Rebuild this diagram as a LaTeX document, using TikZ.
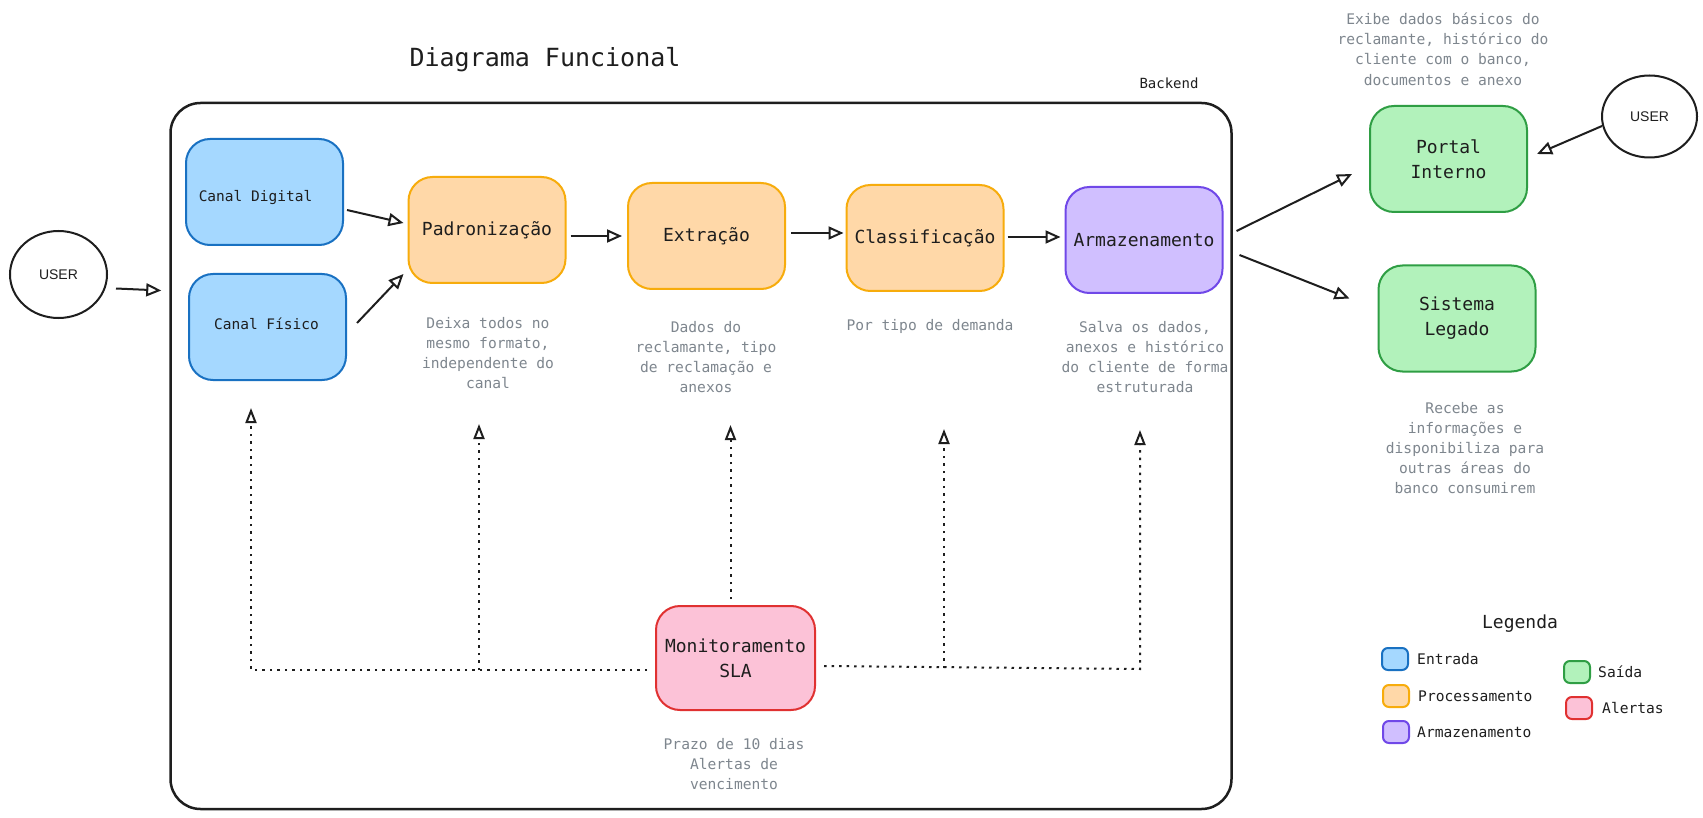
\documentclass[tikz,border=0pt]{standalone}
\usepackage{fontspec}
\setmainfont{DejaVu Sans Mono}
\newfontfamily\usersans{Liberation Sans}
\usetikzlibrary{arrows.meta,calc,shapes.geometric}
\definecolor{blueF}{HTML}{A5D8FF}
\definecolor{blueS}{HTML}{1971C2}
\definecolor{orF}{HTML}{FFD8A8}
\definecolor{orS}{HTML}{F7AC0C}
\definecolor{puF}{HTML}{D0BFFF}
\definecolor{puS}{HTML}{7048E8}
\definecolor{grF}{HTML}{B2F2BB}
\definecolor{grS}{HTML}{2F9E44}
\definecolor{piF}{HTML}{FCC2D7}
\definecolor{piS}{HTML}{E03131}
\definecolor{desc}{HTML}{7E868E}
\definecolor{ink}{HTML}{1E1E1E}
\begin{document}
\begin{tikzpicture}[x=1pt,y=-1pt,
  box/.style={draw, rounded corners=24pt, line width=2pt, minimum width=157pt, minimum height=106pt, align=center, inner sep=0pt, text=ink, font=\fontsize{18}{25}\selectfont},
  bluebox/.style={box, fill=blueF, draw=blueS},
  orbox/.style={box, fill=orF, draw=orS},
  pubox/.style={box, fill=puF, draw=puS},
  grbox/.style={box, fill=grF, draw=grS},
  pibox/.style={box, fill=piF, draw=piS},
  boxlabel/.style={inner sep=0pt, text=ink, font=\fontsize{14.5}{20}\selectfont},
  desctext/.style={align=center, inner sep=0pt, text=desc, font=\fontsize{14.6}{20.2}\selectfont},
  userell/.style={draw=ink, ellipse, line width=2pt, inner sep=0pt, font=\usersans\fontsize{14}{16}\selectfont, text=ink},
  arr/.style={draw=ink, line width=2pt, -{Triangle[open,length=15pt,width=13pt]}},
  dotline/.style={draw=ink, line width=2pt, dash pattern=on 2.5pt off 5pt},
  dotarr/.style={dotline, -{Triangle[open,length=15pt,width=11pt]}},
  swatch/.style={draw, rounded corners=6pt, line width=2pt, minimum width=26pt, minimum height=22pt, inner sep=0pt},
  legtext/.style={anchor=west, inner sep=0pt, text=ink, font=\fontsize{14.6}{18}\selectfont}
]
\useasboundingbox (0,0) rectangle (1703,818);
\fill[white] (0,0) rectangle (1703,818);

% title and container
\node[text=ink, font=\fontsize{25}{30}\selectfont] (title) at (545,60) {Diagrama Funcional};
\node[draw=ink, rounded corners=30pt, line width=2.5pt, minimum width=1061pt, minimum height=706pt] (backend) at (701,456) {};
\node[text=ink, font=\fontsize{14}{16}\selectfont] (backendlbl) at (1169,83) {Backend};

% users
\node[userell, minimum width=97pt, minimum height=87pt] (userL) at (58.5,274.5) {USER};
\node[userell, minimum width=95pt, minimum height=82pt] (userR) at (1649.5,116.5) {USER};

% boxes
\node[bluebox] (cd) at (264.5,192) {};
\node[boxlabel] (cdl) at ($(cd)+(-9,6)$) {Canal Digital};
\node[bluebox] (cf) at (267.5,327) {};
\node[boxlabel] (cfl) at ($(cf)+(-1,-3)$) {Canal Físico};
\node[orbox] (pad) at (487,230) {Padronização};
\node[orbox] (ext) at (706.5,236) {Extração};
\node[orbox] (cla) at (925,238) {Classificação};
\node[pubox] (arm) at (1144,240) {Armazenamento};
\node[grbox] (portal) at (1448.5,159) {Portal\\Interno};
\node[grbox] (sis) at (1457,318.5) {Sistema\\Legado};
\node[pibox, minimum width=159pt, minimum height=104pt] (sla) at (735.5,658) {Monitoramento\\SLA};

% descriptions
\node[desctext] (dpad) at (488,353) {Deixa todos no\\mesmo formato,\\independente do\\canal};
\node[desctext] (dext) at (706,357) {Dados do\\reclamante, tipo\\de reclamação e\\anexos};
\node[desctext] (dcla) at (930,326) {Por tipo de demanda};
\node[desctext] (darm) at (1145,357) {Salva os dados,\\anexos e histórico\\do cliente de forma\\estruturada};
\node[desctext] (dportal) at (1443,49) {Exibe dados básicos do\\reclamante, histórico do\\cliente com o banco,\\documentos e anexo};
\node[desctext] (dsis) at (1465,448) {Recebe as\\informações e\\disponibiliza para\\outras áreas do\\banco consumirem};
\node[desctext] (dsla) at (734,764) {Prazo de 10 dias\\Alertas de\\vencimento};

% arrows
\draw[arr] ($(userL.east)+(8,14)$) -- ($(backend.west |- userL)+(-8,16)$);
\draw[arr] ($(cd.east)+(3,18)$) -- ($(pad.west)+(-4,-7)$);
\draw[arr] ($(cf.east)+(10,-4)$) -- ($(pad.west)+(-4,44)$);
\draw[arr] ($(pad.east)+(4,6)$) -- ($(ext.west)+(-5,0)$);
\draw[arr] ($(ext.east)+(5,-3)$) -- ($(cla.west)+(-2,-5)$);
\draw[arr] ($(cla.east)+(3,-1)$) -- ($(arm.west)+(-4,-3)$);
\draw[arr] ($(arm.east)+(13,-9)$) -- ($(portal.west)+(-17,15)$);
\draw[arr] ($(arm.east)+(16,15)$) -- ($(sis.west)+(-28,-20)$);
\draw[arr] ($(userR.west)+(1,9.5)$) -- ($(portal.east)+(9,-5)$);

% SLA dotted connectors
\coordinate (tcd) at (251,408);
\coordinate (tpad) at (479,424);
\coordinate (tcla) at (944,429);
\coordinate (tarm) at (1140,430);
\draw[dotarr] ($(sla.west)+(-8,12)$) -| (tcd);
\draw[dotarr] (tpad |- 0,670) -- (tpad);
\draw[dotarr] ($(sla.north)+(-5,-6)$) -- ($(sla.north)+(-5,-180)$);
\draw[dotarr] ($(sla.east)+(8,8)$) -- (tarm |- 0,669) -- (tarm);
\draw[dotarr] (tcla |- 0,668) -- (tcla);

% legend
\node[text=ink, font=\fontsize{18}{22}\selectfont] (leg) at (1520,624) {Legenda};
\node[swatch, fill=blueF, draw=blueS] (s1) at (1395,659) {};
\node[legtext] (l1) at (1417,659) {Entrada};
\node[swatch, fill=orF, draw=orS] (s2) at (1396,696) {};
\node[legtext] (l2) at (1418,696) {Processamento};
\node[swatch, fill=puF, draw=puS] (s3) at (1396,732) {};
\node[legtext] (l3) at (1417,732) {Armazenamento};
\node[swatch, fill=grF, draw=grS] (s4) at (1577,672) {};
\node[legtext] (l4) at (1598,672) {Saída};
\node[swatch, fill=piF, draw=piS] (s5) at (1579,708) {};
\node[legtext] (l5) at (1602,708) {Alertas};
\end{tikzpicture}
\end{document}
